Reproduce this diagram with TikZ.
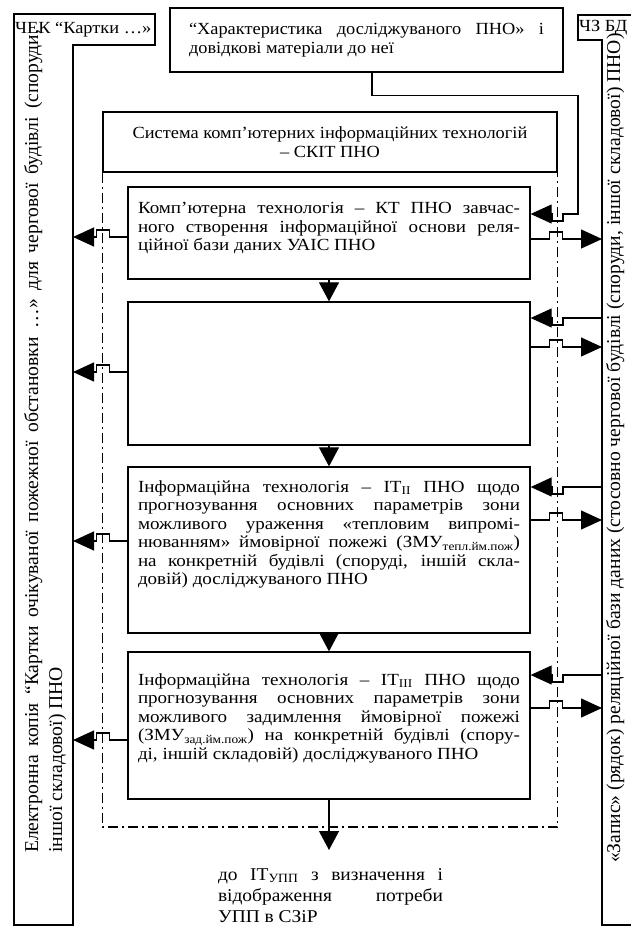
\documentclass[tikz,border=0pt]{standalone}
\usepackage{fontspec}
\setmainfont{Liberation Serif}[FakeStretch=1.08]
\newfontfamily\sidefamily{Liberation Serif}
\newfontfamily\techfamily{Liberation Serif}[FakeStretch=1.12]
\usetikzlibrary{arrows.meta,positioning}
\newcommand\blockfont{\fontsize{17}{18.5}\selectfont}
\newcommand\techfont{\techfamily\fontsize{17}{18.5}\selectfont}
\newcommand\sidefont{\sidefamily\fontsize{19.6}{24}\selectfont}
\newcommand\destfont{\fontsize{18}{21}\selectfont}

\begin{document}
\begin{tikzpicture}[x=1pt,y=-1pt]
    \tikzset{block/.style= {draw, rectangle
    , line width=1.3pt
    , inner sep=0pt
      }
    , blocktext/.style={text width=382pt, align=justify, inner sep=0pt, font=\techfont}
    , frame/.style={draw, line width=1.5pt}
    , flow/.style={draw, line width=1.2pt, -{Triangle[length=21pt,width=19pt]}}
    , down/.style={draw, line width=1.2pt, -{Triangle[length=19pt,width=20pt]}}
    , dashdot/.style={draw, line width=1.2pt, dash pattern=on 10pt off 4pt on 2pt off 4pt}
    }
\useasboundingbox (0,0) rectangle (630,928);

% side frames
\path[frame] (14,14) -- (155,14) -- (155,45) -- (73,45) -- (73,925) -- (14,925) -- cycle;
\path[frame] (650,15) -- (578,15) -- (578,40) -- (602,40) -- (602,925) -- (650,925);
\coordinate (cekin) at (73,45);
\coordinate (bdin) at (602,40);
\coordinate (bdtab) at (578,15);

\node [anchor=west, inner sep=1pt, font=\blockfont] (cek) at (14,30) {ЧЕК “Картки …»};
\node [anchor=west, inner sep=1pt, font=\blockfont] (bd) at (578,28) {ЧЗ БД};
\node [rotate=90, anchor=north west, text width=823pt, align=justify, inner sep=0pt, font=\sidefont] (cekbody) at (24,853)
  {Електронна копія “Картки очікуваної пожежної обстановки …» для чергової будівлі (споруди,\linebreak іншої складової) ПНО};
\node [rotate=90, anchor=north west, inner sep=0pt, font=\sidefont] (bdbody) at (606,863)
  {«Запис» (рядок) реляційної бази даних (стосовно чергової будівлі (споруди, іншої складової) ПНО)};

% source and system
\node [block, minimum width=393pt, minimum height=64pt, text width=355pt, align=justify, font=\blockfont] (spec) at (366.5,40)
  {“Характеристика досліджуваного ПНО» і\linebreak довідкові матеріали до неї};
\node [block, minimum width=454pt, minimum height=60pt, align=center, font=\blockfont] (skit) at (330,142)
  {Система комп’ютерних інформаційних технологій\\– СКІТ ПНО};
\coordinate (frameb) at (330,827);
\path[dashdot] (skit.south west) -- (skit.south west |- frameb) -- (skit.south east |- frameb) -- (skit.south east);

% technologies
\node [block, minimum width=402pt, minimum height=92pt] (node0) at (329,233) {};
\node [block, minimum width=402pt, minimum height=143pt] (node1) at (329,373.5) {};
\node [block, minimum width=402pt, minimum height=166pt] (node2) at (329,550) {};
\node [block, minimum width=402pt, minimum height=147pt] (node3) at (329,725.5) {};

\node [blocktext, below=16pt of node0.north] (text0)
  {Комп’ютерна технологія – КТ ПНО завчас-\linebreak ного створення інформаційної основи реля-\linebreak ційної бази даних УАІС ПНО};
\node [blocktext, below=14pt of node2.north] (text2)
  {Інформаційна технологія – IT\textsubscript{II} ПНО щодо\linebreak прогнозування основних параметрів зони\linebreak можливого ураження «тепловим випромі-\linebreak нюванням» ймовірної пожежі (ЗМУ\textsubscript{тепл.йм.пож})\linebreak на конкретній будівлі (споруді, іншій скла-\linebreak довій) досліджуваного ПНО};
\node [blocktext, below=22pt of node3.north] (text3)
  {Інформаційна технологія – IT\textsubscript{III} ПНО щодо\linebreak прогнозування основних параметрів зони\linebreak можливого задимлення ймовірної пожежі\linebreak (ЗМУ\textsubscript{зад.йм.пож}) на конкретній будівлі (спору-\linebreak ді, іншій складовій) досліджуваного ПНО};

\node [anchor=north, text width=225pt, align=justify, inner sep=0pt, font=\destfont] (dest) at (330.5,868)
  {до IT\textsubscript{УПП} з визначення і\linebreak відображення потреби\linebreak УПП в СЗіР};

\path[down] (node0) -- (node1);
\path[down] (node1) -- (node2);
\path[down] (node2) -- (node3);
\path[down, shorten >=18pt] (node3) -- (node3 |- dest.north);

% to the card copy
\path[flow] ([yshift=-4pt]node0.west) -- ++(-18,0) -- ++(0,-7) -- ++(-13,0) -- ++(0,7) coordinate (l0) -- (cekin |- l0);
\path[flow] ([yshift=1.5pt]node1.west) -- ++(-18,0) -- ++(0,-7) -- ++(-13,0) -- ++(0,7) coordinate (l1) -- (cekin |- l1);
\path[flow] ([yshift=9pt]node2.west) -- ++(-18,0) -- ++(0,-7) -- ++(-13,0) -- ++(0,7) coordinate (l2) -- (cekin |- l2);
\path[flow] ([yshift=-14.5pt]node3.west) -- ++(-18,0) -- ++(0,-7) -- ++(-13,0) -- ++(0,7) coordinate (l3) -- (cekin |- l3);

% to the record
\path[flow] ([yshift=-6pt]node0.east) -- ++(19,0) -- ++(0,-7) -- ++(13,0) -- ++(0,7) coordinate (r0) -- (bdin |- r0);
\path[flow] ([yshift=26.5pt]node1.east) -- ++(19,0) -- ++(0,-7) -- ++(13,0) -- ++(0,7) coordinate (r1) -- (bdin |- r1);
\path[flow] ([yshift=30pt]node2.east) -- ++(19,0) -- ++(0,-7) -- ++(13,0) -- ++(0,7) coordinate (r2) -- (bdin |- r2);
\path[flow] ([yshift=17.5pt]node3.east) -- ++(19,0) -- ++(0,-7) -- ++(13,0) -- ++(0,7) coordinate (r3) -- (bdin |- r3);

% from the record
\path[flow] ([xshift=5.5pt]spec.south) -- ++(0,23) -| ([yshift=19pt]node0.east -| bdtab) -- ++(-15,0) -- ++(0,7) -- ++(-11,0) -- ++(0,-7) -- ([yshift=19pt]node0.east);
\path[flow] ([yshift=55.5pt]node1.east -| bdin) -- ++(-39,0) -- ++(0,7) -- ++(-11,0) -- ++(0,-7) -- ([yshift=55.5pt]node1.east);
\path[flow] ([yshift=63pt]node2.east -| bdin) -- ++(-39,0) -- ++(0,7) -- ++(-11,0) -- ++(0,-7) -- ([yshift=63pt]node2.east);
\path[flow] ([yshift=50.5pt]node3.east -| bdin) -- ++(-39,0) -- ++(0,7) -- ++(-11,0) -- ++(0,-7) -- ([yshift=50.5pt]node3.east);
\end{tikzpicture}
\end{document}
